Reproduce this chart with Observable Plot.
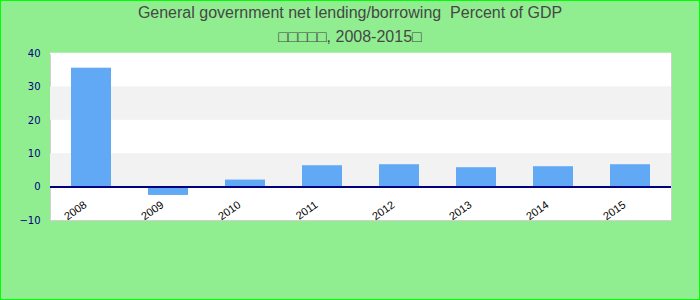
<!DOCTYPE html>
<html>
<head>
<meta charset="utf-8">
<script src="https://cdn.jsdelivr.net/npm/d3@7"></script>
<script src="https://cdn.jsdelivr.net/npm/@observablehq/plot@0.6"></script>
<style>
  html, body { margin: 0; padding: 0; }
  #wrap { position: relative; width: 700px; height: 300px; background: #90EE90; box-shadow: inset 0 0 0 1px #00ff00; overflow: hidden; }
  #title { position: absolute; left: 0; top: 0; width: 700px; height: 48px; text-align: center; font-family: "Liberation Sans", Arial, sans-serif; font-size: 16px; color: #474747; white-space: pre; }
  #title .l1 { position: absolute; left: 0; right: 0; top: 3px; line-height: 19px; }
  #title .l2 { position: absolute; left: 0; right: 0; top: 27px; line-height: 19px; }
  #chart { position: absolute; left: 0; top: 48px; }
  #chart svg { background: transparent; overflow: visible; }
</style>
</head>
<body>
<div id="wrap">
  <div id="title"><div class="l1"></div><div class="l2"></div></div>
  <div id="chart"></div>
</div>
<script>
const titleLine1 = "General government net lending/borrowing  Percent of GDP";
const titleLine2 = "\u25A1\u25A1\u25A1\u25A1\u25A1, 2008-2015\u25A1";
const years = ["2008", "2009", "2010", "2011", "2012", "2013", "2014", "2015"];
const values = [35.6, -2.5, 2.1, 6.4, 6.7, 5.8, 6.1, 6.7];
const yTicks = [-10, 0, 10, 20, 30, 40];
const bandLow = [0, 20];
const bandHigh = [10, 30];

document.querySelector("#title .l1").textContent = titleLine1;
document.querySelector("#title .l2").textContent = titleLine2;

const data = years.map((y, i) => ({year: y, value: values[i]}));
const bands = bandLow.map((lo, i) => ({lo, hi: bandHigh[i]}));

const chart = Plot.plot({
  width: 700,
  height: 252,
  marginTop: 5,
  marginBottom: 80,
  marginLeft: 50,
  marginRight: 29,
  style: {background: "transparent", fontFamily: "DejaVu Sans, sans-serif", fontSize: "10px"},
  x: {domain: years, paddingInner: 0.48, paddingOuter: 0.24, label: null},
  y: {domain: [-10, 40], label: null},
  marks: [
    Plot.frame({fill: "white", stroke: "#d0d0d0"}),
    Plot.rect(bands, {y1: "lo", y2: "hi", fill: "#f2f2f2"}),
    Plot.ruleY([40], {stroke: "white", strokeWidth: 1.5}),
    Plot.barY(data, {x: "year", y: "value", fill: "#62a9f5"}),
    Plot.ruleY([0], {stroke: "#000080", strokeWidth: 2}),
    Plot.axisY({ticks: yTicks, tickSize: 0, tickPadding: 10, fill: "#000080", fontSize: 10}),
    Plot.axisX({tickSize: 0, tickRotate: -35, tickPadding: 0, dy: -17, dx: -6, fill: "#000", fontSize: 11, fontFamily: "Liberation Sans, Arial, sans-serif"})
  ]
});
document.getElementById("chart").appendChild(chart);
</script>
</body>
</html>
